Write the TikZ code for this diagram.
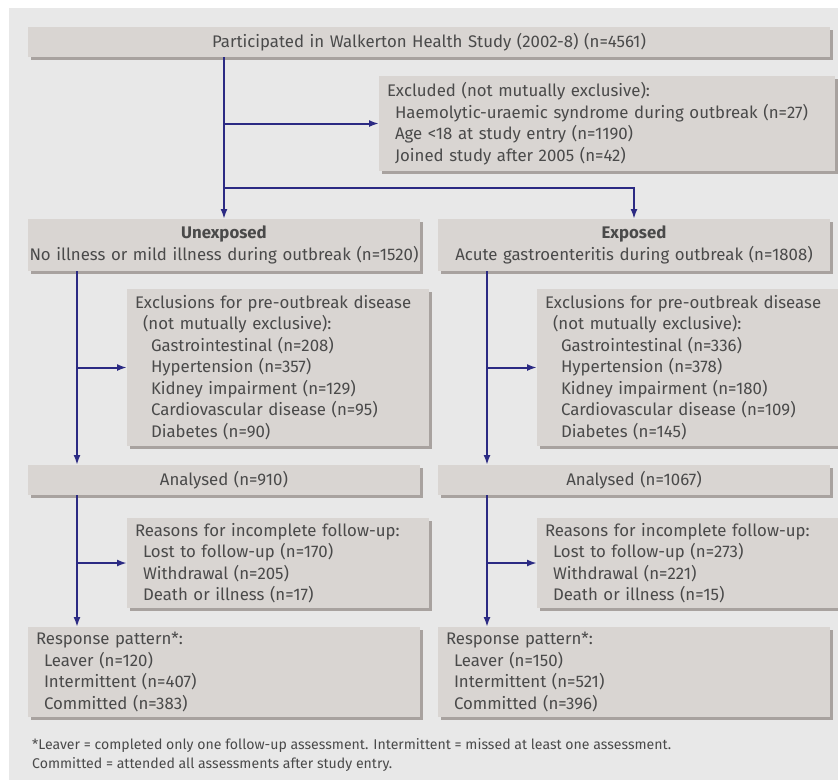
\documentclass[tikz,border=0pt]{standalone}
\usepackage{fontspec}
\setmainfont{Fira Sans}
\usetikzlibrary{arrows.meta}
\usetikzlibrary{shadows}
\definecolor{bggray}{HTML}{E8E8E8}
\definecolor{boxgray}{HTML}{D9D5D2}
\definecolor{shadegray}{HTML}{A8A29F}
\definecolor{linenavy}{HTML}{2B2A83}
\definecolor{textgray}{HTML}{4A4A4A}
\newcommand{\ind}{\hspace*{8pt}}

\begin{document}
\begin{tikzpicture}[x=1pt,y=-1pt,
    box/.style={fill=boxgray,anchor=north west,inner xsep=8pt,inner ysep=0pt,
      outer sep=0pt,text=textgray,font=\fontsize{16.8}{21.5}\selectfont,
      drop shadow={shadow xshift=3pt,shadow yshift=-3pt,fill=shadegray,opacity=1}},
    headbox/.style={box,inner xsep=0pt,align=center},
    flow/.style={draw=linenavy,line width=2pt,-{Latex[length=10pt,width=7pt]}}]
    \path[use as bounding box] (0,0) rectangle (838,780);
    % Background.
    \fill[bggray] (9,8) rectangle (838,780);
    % Top.
    \node[headbox,text width=802pt,minimum height=30pt] (top) at (28,27)
      {Participated in Walkerton Health Study (2002-8) (n=4561)};
    \node[box,text width=440pt,minimum height=95pt,align=left] (excl) at (379,76)
      {Excluded (not mutually exclusive):\\
       \ind Haemolytic-uraemic syndrome during outbreak (n=27)\\
       \ind Age <18 at study entry (n=1190)\\
       \ind Joined study after 2005 (n=42)};
    % Groups.
    \node[headbox,text width=392pt,minimum height=52pt] (u) at (28,219)
      {\textbf{Unexposed}\\No illness or mild illness during outbreak (n=1520)};
    \node[headbox,text width=392pt,minimum height=52pt] (e) at (438,219)
      {\textbf{Exposed}\\Acute gastroenteritis during outbreak (n=1808)};
    % Pre-outbreak exclusions.
    \node[box,text width=286pt,minimum height=157pt,align=left] (uexcl) at (127,289)
      {Exclusions for pre-outbreak disease\\
       \ind(not mutually exclusive):\\
       \ind\ind Gastrointestinal (n=208)\\
       \ind\ind Hypertension (n=357)\\
       \ind\ind Kidney impairment (n=129)\\
       \ind\ind Cardiovascular disease (n=95)\\
       \ind\ind Diabetes (n=90)};
    \node[box,text width=286pt,minimum height=157pt,align=left] (eexcl) at (537,289)
      {Exclusions for pre-outbreak disease\\
       \ind(not mutually exclusive):\\
       \ind\ind Gastrointestinal (n=336)\\
       \ind\ind Hypertension (n=378)\\
       \ind\ind Kidney impairment (n=180)\\
       \ind\ind Cardiovascular disease (n=109)\\
       \ind\ind Diabetes (n=145)};
    % Analysed.
    \node[headbox,text width=392pt,minimum height=30pt] (uana) at (28,465)
      {Analysed (n=910)};
    \node[headbox,text width=392pt,minimum height=30pt] (eana) at (438,465)
      {Analysed (n=1067)};
    % Follow-up.
    \node[box,text width=286pt,minimum height=90pt,align=left] (ureas) at (127,518)
      {Reasons for incomplete follow-up:\\
       \ind Lost to follow-up (n=170)\\
       \ind Withdrawal (n=205)\\
       \ind Death or illness (n=17)};
    \node[box,text width=286pt,minimum height=90pt,align=left] (ereas) at (537,518)
      {Reasons for incomplete follow-up:\\
       \ind Lost to follow-up (n=273)\\
       \ind Withdrawal (n=221)\\
       \ind Death or illness (n=15)};
    % Response pattern.
    \node[box,text width=376pt,minimum height=90pt,align=left] (uresp) at (28,627)
      {Response pattern*:\\
       \ind Leaver (n=120)\\
       \ind Intermittent (n=407)\\
       \ind Committed (n=383)};
    \node[box,text width=376pt,minimum height=90pt,align=left] (eresp) at (438,627)
      {Response pattern*:\\
       \ind Leaver (n=150)\\
       \ind Intermittent (n=521)\\
       \ind Committed (n=396)};
    % Footnote.
    \node[anchor=north west,inner sep=0pt,text=textgray,align=left,
      font=\fontsize{14.1}{19.5}\selectfont] (note) at (32,738)
      {*Leaver = completed only one follow-up assessment. Intermittent = missed at least one assessment.\\
       Committed = attended all assessments after study entry.};
    % Arrows.
    \draw[flow] (top.south -| u.north) -- (u.north);
    \draw[flow] (excl.west -| u.north) -- (excl.west);
    \path (u.north) ++(0,-31) coordinate (split);
    \draw[flow] (split) -| (e.north);
    \foreach \c in {u,e} {
      \path (\c.south west) ++(49,0) coordinate (\c bar);
      \draw[flow] (\c bar) -- (\c ana.north -| \c bar);
      \draw[flow] (\c excl.west -| \c bar) -- (\c excl.west);
      \path (\c ana.south west) ++(49,0) coordinate (\c bar2);
      \draw[flow] (\c bar2) -- (\c resp.north -| \c bar2);
      \draw[flow] (\c reas.west -| \c bar2) -- (\c reas.west);
    }
\end{tikzpicture}
\end{document}
